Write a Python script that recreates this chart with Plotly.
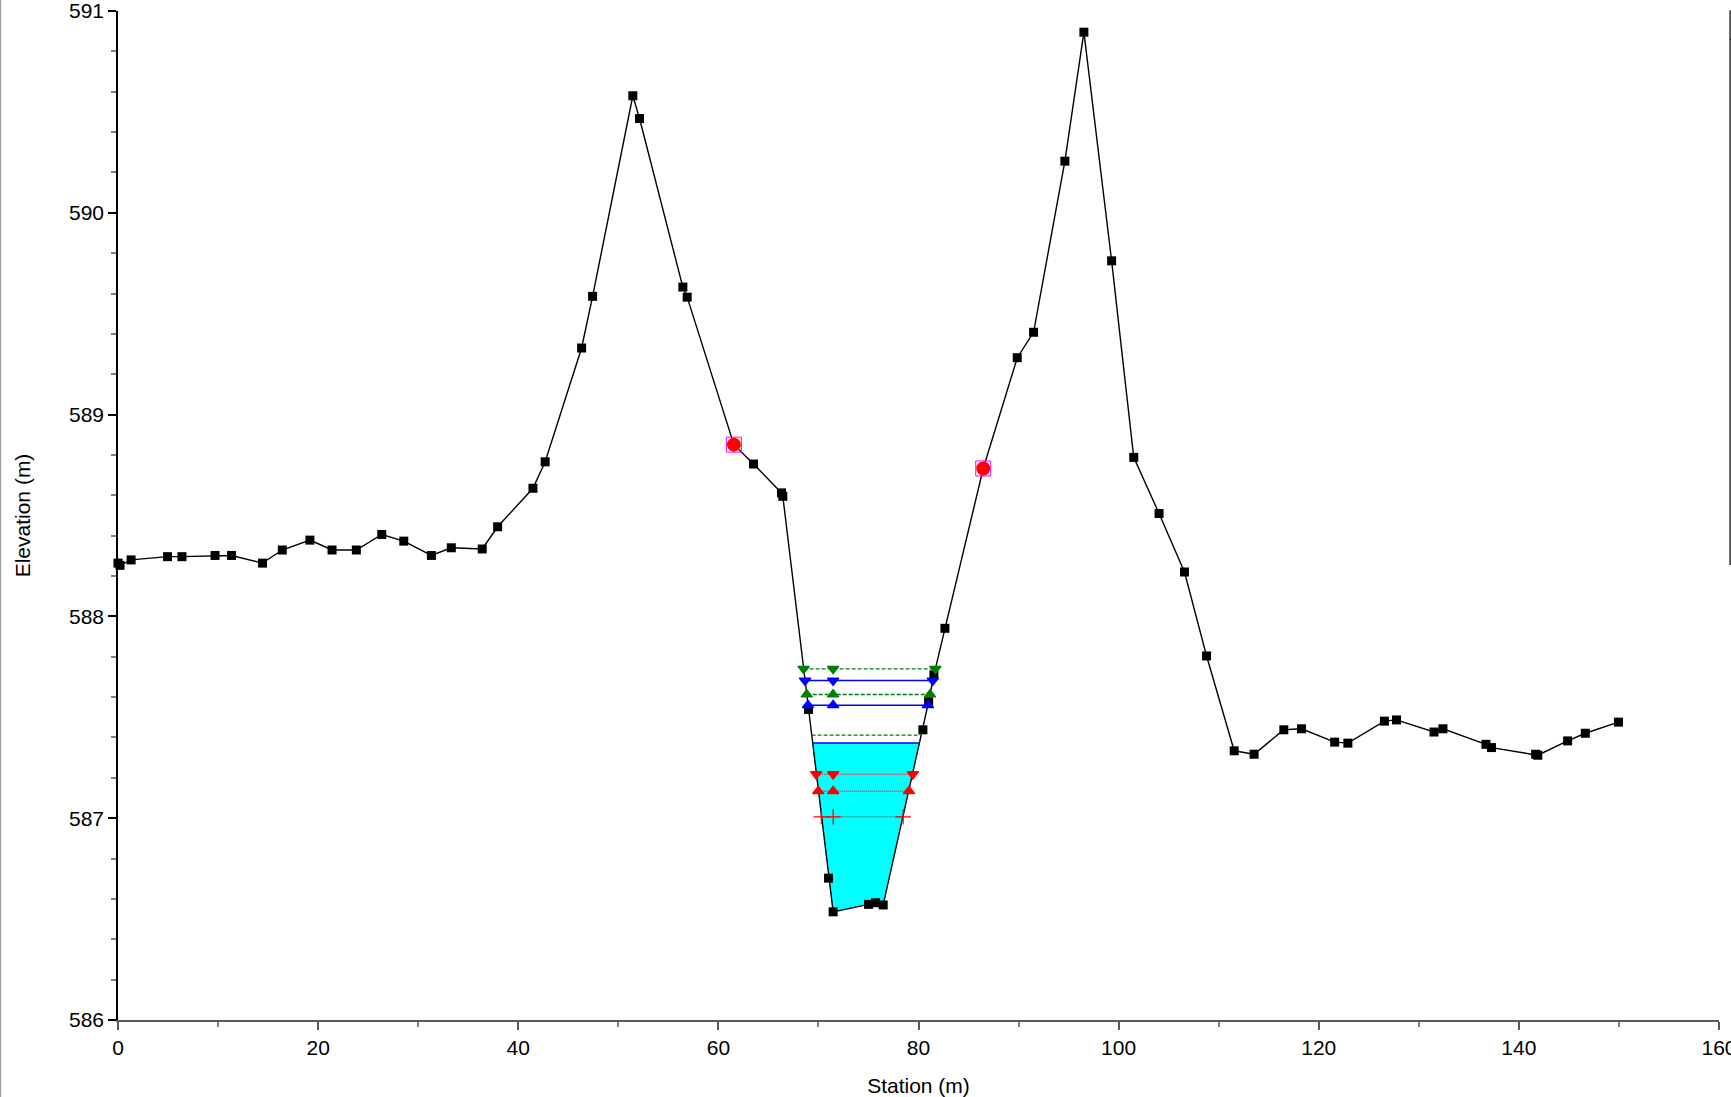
import numpy as np
import plotly.graph_objects as go

# ---------------- data ----------------
station = [0.0, 0.2, 1.31, 4.95, 6.39, 9.70, 11.35, 14.44, 16.42, 19.18,
           21.39, 23.82, 26.36, 28.56, 31.32, 33.31, 36.40, 37.94, 41.47, 42.69,
           46.33, 47.43, 51.45, 52.12, 56.45, 56.88, 61.55, 63.51, 66.31, 66.44,
           69.01, 71.01, 71.47, 75.01, 75.71, 76.47, 80.44, 81.01, 81.54, 82.64,
           86.47, 89.87, 91.50, 94.63, 96.53, 99.30, 101.51, 104.04, 106.58, 108.79,
           111.55, 113.54, 116.51, 118.28, 121.59, 122.91, 126.56, 127.77, 131.52, 132.41,
           136.71, 137.26, 141.67, 141.89, 144.87, 146.64, 149.95]
elevation = [588.264, 588.253, 588.280, 588.296, 588.296, 588.302, 588.302, 588.264, 588.329, 588.378,
             588.329, 588.329, 588.406, 588.373, 588.302, 588.340, 588.334, 588.444, 588.635, 588.766,
             589.330, 589.586, 590.580, 590.467, 589.632, 589.582, 588.851, 588.755, 588.612, 588.595,
             587.539, 586.703, 586.536, 586.573, 586.581, 586.570, 587.438, 587.577, 587.710, 587.941,
             588.733, 589.282, 589.408, 590.256, 590.895, 589.762, 588.788, 588.510, 588.220, 587.804,
             587.334, 587.317, 587.438, 587.443, 587.377, 587.372, 587.481, 587.487, 587.427, 587.443,
             587.366, 587.350, 587.317, 587.312, 587.383, 587.421, 587.476]
bank_stations = [61.55, 86.47]

profile_names = ["EG PF 3", "WS PF 3", "EG PF 2", "WS PF 2", "EG PF 1", "WS PF 1",
                 "Crit PF 3", "Crit PF 2", "Crit PF 1"]
profile_levels = [587.740, 587.682, 587.613, 587.560, 587.412, 587.373,
                  587.218, 587.134, 587.007]
filled_profile = "WS PF 1"

x_ticks = [0, 20, 40, 60, 80, 100, 120, 140, 160]
y_ticks = [586, 587, 588, 589, 590, 591]

# ---------------- styles ----------------
GREEN, BLUE, RED = "#008000", "#0000FF", "#FF0000"
styles = {
    "EG PF 3": dict(color=GREEN, dash="4px,2px", width=1.3, symbol="triangle-down"),
    "WS PF 3": dict(color=BLUE, dash="solid", width=1.5, symbol="triangle-down"),
    "EG PF 2": dict(color=GREEN, dash="4px,2px", width=1.3, symbol="triangle-up"),
    "WS PF 2": dict(color=BLUE, dash="solid", width=1.5, symbol="triangle-up"),
    "EG PF 1": dict(color=GREEN, dash="4px,2px", width=1.3, symbol=None),
    "WS PF 1": dict(color=BLUE, dash="solid", width=1.5, symbol=None),
    "Crit PF 3": dict(color=RED, dash="1px,1px", width=1, symbol="triangle-down"),
    "Crit PF 2": dict(color=RED, dash="1px,1px", width=1, symbol="triangle-up"),
    "Crit PF 1": dict(color=RED, dash="1px,1px", width=1, symbol="cross-thin"),
}

s = np.array(station)
z = np.array(elevation)
i_min = int(np.argmin(z))
thalweg = s[i_min]


def crossings(level):
    i = i_min
    while z[i] < level:
        i -= 1
    xl = s[i] + (z[i] - level) / (z[i] - z[i + 1]) * (s[i + 1] - s[i])
    j = i_min
    while z[j] < level:
        j += 1
    xr = s[j - 1] + (level - z[j - 1]) / (z[j] - z[j - 1]) * (s[j] - s[j - 1])
    return xl, xr, i, j


fig = go.Figure()

# water fill
lvl = profile_levels[profile_names.index(filled_profile)]
xl, xr, i, j = crossings(lvl)
poly_x = [xl] + list(s[i + 1:j]) + [xr, xl]
poly_y = [lvl] + list(z[i + 1:j]) + [lvl, lvl]
fig.add_trace(go.Scatter(x=poly_x, y=poly_y, fill="toself", fillcolor="#00FFFF",
                         mode="lines", line=dict(width=0), name=filled_profile + " area",
                         showlegend=False, hoverinfo="skip"))

# ground
fig.add_trace(go.Scatter(x=station, y=elevation, mode="lines+markers", name="Ground",
                         line=dict(color="black", width=1.4),
                         marker=dict(symbol="square", size=9, color="black"),
                         cliponaxis=False))

# profile lines
for name, level in zip(profile_names, profile_levels):
    st = styles[name]
    xl, xr, _, _ = crossings(level)
    xs = [xl, thalweg, xr]
    ys = [level, level, level]
    if st["symbol"]:
        size = 11 if st["symbol"] == "cross-thin" else 10
        mk = dict(symbol=st["symbol"], size=size, color=st["color"],
                  line=dict(color=st["color"], width=1.2))
        mode = "lines+markers"
    else:
        mk = None
        mode = "lines"
    fig.add_trace(go.Scatter(x=xs, y=ys, mode=mode, name=name,
                             line=dict(color=st["color"], width=st["width"], dash=st["dash"]),
                             marker=mk, cliponaxis=False))

# bank stations
bank_elev = list(np.interp(bank_stations, s, z))
fig.add_trace(go.Scatter(x=bank_stations, y=bank_elev, mode="markers", name="Bank Sta",
                         marker=dict(symbol="square-open", size=15, color="#FF00FF",
                                     line=dict(width=1, color="#FF00FF"))))
fig.add_trace(go.Scatter(x=bank_stations, y=bank_elev, mode="markers", name="Bank Sta",
                         marker=dict(symbol="circle", size=14, color="#FF0000")))

FONT = "Arial, Liberation Sans, sans-serif"

fig.update_layout(
    width=1731, height=1097,
    margin=dict(l=118, r=12, t=11, b=77),
    paper_bgcolor="white", plot_bgcolor="white",
    showlegend=False,
    font=dict(family=FONT, size=21, color="black"),
    xaxis=dict(range=[0, 160], tickvals=x_ticks, ticktext=[str(v) for v in x_ticks],
               automargin=False, ticklabeloverflow="allow",
               showgrid=False, zeroline=False,
               showline=True, linecolor="#5a5a5a", linewidth=1.5,
               ticks="outside", ticklen=8, tickwidth=1.5, tickcolor="#5a5a5a",
               minor=dict(dtick=10, ticks="outside", ticklen=5, tickcolor="#808080", tickwidth=1.5),
               tickfont=dict(size=21, family=FONT),
               title=dict(text="Station (m)", font=dict(size=21, family=FONT), standoff=21)),
    yaxis=dict(range=[586, 591], tickvals=y_ticks, ticktext=[str(v) for v in y_ticks],
               automargin=False, ticklabeloverflow="allow",
               showgrid=False, zeroline=False,
               showline=True, linecolor="black", linewidth=1.5,
               ticks="outside", ticklen=8, tickwidth=1.5, tickcolor="black",
               minor=dict(dtick=0.2, ticks="outside", ticklen=5, tickcolor="#808080", tickwidth=1.5),
               tickfont=dict(size=21, family=FONT),
               title=dict(text="Elevation (m)", font=dict(size=21, family=FONT), standoff=33)),
)

# truncated legend frame on the right and left window edge
fig.add_shape(type="rect", xref="paper", yref="paper",
              x0=1.0069, x1=1.2, y0=0.4518, y1=1.0,
              line=dict(color="black", width=1.2), fillcolor="rgba(0,0,0,0)")
fig.add_shape(type="line", xref="paper", yref="paper",
              x0=1.0069, x1=1.2, y0=0.972, y1=0.972,
              line=dict(color="black", width=1))
fig.add_shape(type="line", xref="paper", yref="paper",
              x0=-0.0736, x1=-0.0736, y0=-0.08, y1=1.02,
              line=dict(color="#a0a0a0", width=2))

fig.write_html("out.html",
               config={"displayModeBar": False},
               post_script="document.body.style.margin='0px';document.body.style.padding='0px';"
                           "document.body.style.overflow='hidden';")
